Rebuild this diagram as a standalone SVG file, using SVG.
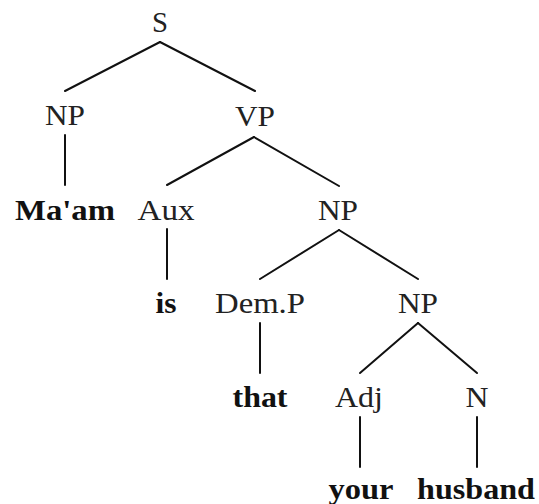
<svg xmlns="http://www.w3.org/2000/svg" width="539" height="504" viewBox="0 0 539 504">
<style>
.l{font-family:"Liberation Serif","Times New Roman",serif;font-size:30px;fill:#222;text-anchor:middle}
.b{font-family:"Liberation Serif","Times New Roman",serif;font-size:30px;font-weight:bold;fill:#111;text-anchor:middle}
.e line{stroke:#111;stroke-width:2;stroke-linecap:round}
</style>
<rect width="539" height="504" fill="#fff"/>
<g class="e" id="connectors">
<line x1="160" y1="42" x2="65" y2="91"/>
<line x1="160" y1="42" x2="255" y2="91"/>
<line x1="65" y1="135" x2="65" y2="185"/>
<line x1="254" y1="137" x2="167" y2="185"/>
<line x1="254" y1="137" x2="339" y2="186"/>
<line x1="167" y1="229" x2="167" y2="279"/>
<line x1="339" y1="230" x2="260" y2="279"/>
<line x1="339" y1="230" x2="418" y2="279"/>
<line x1="260" y1="323" x2="260" y2="373"/>
<line x1="418" y1="323" x2="360" y2="373"/>
<line x1="418" y1="323" x2="477" y2="373"/>
<line x1="360" y1="417" x2="360" y2="467"/>
<line x1="477" y1="417" x2="477" y2="467"/>
</g>
<g id="n-S"><text class="l" x="160" y="32" textLength="16" lengthAdjust="spacingAndGlyphs">S</text></g>
<g id="n-NP1"><text class="l" x="65" y="125" textLength="40" lengthAdjust="spacingAndGlyphs">NP</text></g>
<g id="n-VP"><text class="l" x="255" y="126" textLength="40" lengthAdjust="spacingAndGlyphs">VP</text></g>
<g id="n-Maam"><text class="b" x="65" y="220" textLength="100" lengthAdjust="spacingAndGlyphs">Ma'am</text></g>
<g id="n-Aux"><text class="l" x="166" y="220" textLength="57" lengthAdjust="spacingAndGlyphs">Aux</text></g>
<g id="n-NP2"><text class="l" x="338" y="220" textLength="40" lengthAdjust="spacingAndGlyphs">NP</text></g>
<g id="n-is"><text class="b" x="166" y="313" textLength="21" lengthAdjust="spacingAndGlyphs">is</text></g>
<g id="n-DemP"><text class="l" x="260" y="313" textLength="90" lengthAdjust="spacingAndGlyphs">Dem.P</text></g>
<g id="n-NP3"><text class="l" x="418" y="313" textLength="40" lengthAdjust="spacingAndGlyphs">NP</text></g>
<g id="n-that"><text class="b" x="260" y="407" textLength="55" lengthAdjust="spacingAndGlyphs">that</text></g>
<g id="n-Adj"><text class="l" x="359" y="407" textLength="48" lengthAdjust="spacingAndGlyphs">Adj</text></g>
<g id="n-N"><text class="l" x="477" y="407" textLength="23" lengthAdjust="spacingAndGlyphs">N</text></g>
<g id="n-your"><text class="b" x="361" y="499" textLength="65" lengthAdjust="spacingAndGlyphs">your</text></g>
<g id="n-husband"><text class="b" x="476" y="499" textLength="118" lengthAdjust="spacingAndGlyphs">husband</text></g>
</svg>
